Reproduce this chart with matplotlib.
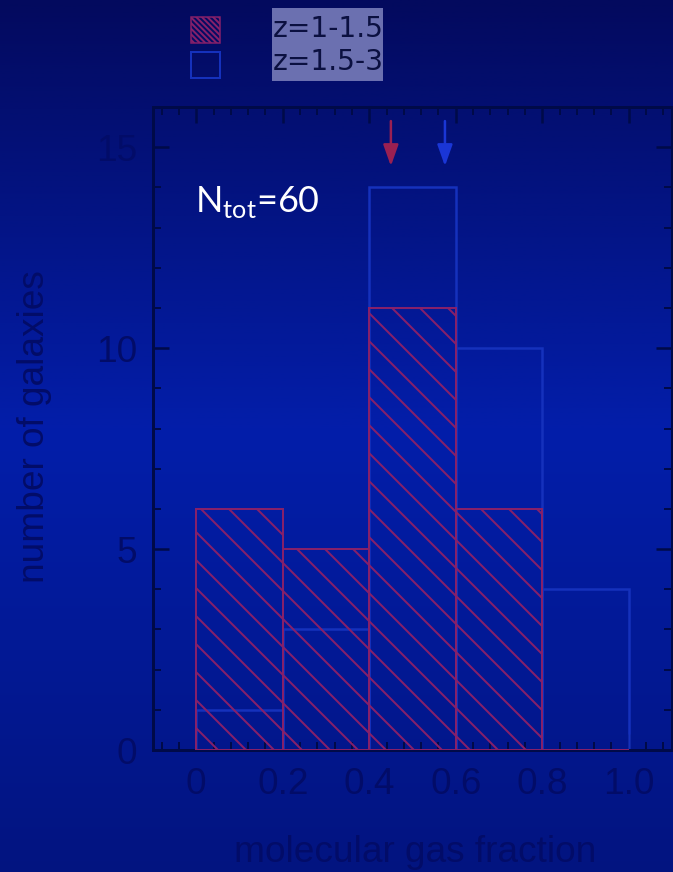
import numpy as np
import matplotlib
matplotlib.use('Agg')
import matplotlib.pyplot as plt
from matplotlib.patches import Rectangle
from matplotlib.ticker import AutoMinorLocator, FixedLocator, MultipleLocator

# ---------------- data ----------------
bin_left = [0.0, 0.2, 0.4, 0.6, 0.8]
bin_width = 0.2
counts_low_z = [6, 5, 11, 6, 0]      # z=1-1.5 (red hatched)
counts_high_z = [1, 3, 14, 10, 4]    # z=1.5-3 (blue open)
median_low_z = 0.45
median_high_z = 0.575
series_labels = ['z=1-1.5', 'z=1.5-3']
n_total = 60
xticks = [0, 0.2, 0.4, 0.6, 0.8, 1.0]
xtick_labels = ['0', '0.2', '0.4', '0.6', '0.8', '1.0']
yticks = [0, 5, 10, 15]
xlabel = 'molecular gas fraction'
ylabel = 'number of galaxies'

# ---------------- style ----------------
DPI = 168
W, H = 673, 872


def pt(px):
    return px * 72.0 / DPI


RED = '#86206a'
BLUE = '#1531bc'
AX_COL = '#000a48'
LBL_COL = '#020c68'

plt.rcParams['hatch.linewidth'] = pt(2.0)
plt.rcParams['font.family'] = ['Liberation Sans', 'DejaVu Sans']

fig = plt.figure(figsize=(W / DPI, H / DPI), dpi=DPI)

# background gradient
bg = fig.add_axes([0, 0, 1, 1], zorder=-10)
ys = np.array([0, 430, 872]) / H
cols = np.array([[3, 10, 94], [3, 30, 170], [2, 20, 128]]) / 255.0
yy = np.linspace(0, 1, 400)
grad = np.stack([np.interp(yy, ys, cols[:, i]) for i in range(3)], axis=-1)
bg.imshow(grad[:, None, :], aspect='auto', extent=[0, 1, 1, 0], origin='upper')
bg.set_xlim(0, 1)
bg.set_ylim(1, 0)
bg.axis('off')

# main axes
left, right, bottom, top = 153, 672, 750, 107
ax = fig.add_axes([left / W, 1 - bottom / H, (right - left) / W, (bottom - top) / H])
ax.set_facecolor('none')

ax.bar(bin_left, counts_high_z, width=bin_width, align='edge', fill=False,
       edgecolor=BLUE, linewidth=pt(2.5), zorder=2)
ax.bar(bin_left, counts_low_z, width=bin_width, align='edge', facecolor='none',
       edgecolor=RED, hatch='\\\\', linewidth=pt(2.0), zorder=3)

for xm, c in [(median_low_z, '#9a2052'), (median_high_z, '#1a36d6')]:
    ax.annotate('', xy=(xm, 14.53), xytext=(xm, 15.65),
                arrowprops=dict(arrowstyle='-|>,head_length=0.45,head_width=0.16',
                                color=c, lw=pt(2.5), shrinkA=0, shrinkB=0,
                                mutation_scale=pt(40)))

ax.set_xlim(-0.1, 1.1)
ax.set_ylim(0, 16)
ax.xaxis.set_major_locator(FixedLocator(xticks))
ax.set_xticklabels(xtick_labels)
ax.xaxis.set_minor_locator(AutoMinorLocator(5))
ax.yaxis.set_major_locator(FixedLocator(yticks))
ax.yaxis.set_minor_locator(MultipleLocator(1))

for s in ax.spines.values():
    s.set_color(AX_COL)
    s.set_linewidth(pt(3))

ax.tick_params(which='both', direction='in', top=True, right=True,
               color=AX_COL, labelcolor=LBL_COL)
ax.tick_params(which='major', length=pt(16), width=pt(2.5), labelsize=pt(37))
ax.tick_params(which='minor', length=pt(8), width=pt(2))
ax.tick_params(axis='x', which='major', pad=pt(17))
ax.tick_params(axis='y', which='major', pad=pt(16))

ax.set_xlabel(xlabel, fontsize=pt(37), color=LBL_COL)
ax.set_ylabel(ylabel, fontsize=pt(37), color=LBL_COL)
ax.xaxis.set_label_coords((415 - left) / (right - left), (bottom - 852) / (bottom - top))
ax.xaxis.label.set_va('center')
ax.yaxis.set_label_coords((35 - left) / (right - left), (bottom - 427) / (bottom - top))
ax.yaxis.label.set_va('center')

# N_tot annotation
plt.rcParams['mathtext.fontset'] = 'custom'
plt.rcParams['mathtext.rm'] = 'Lato'
fig.text(195 / W, 1 - 212 / H, r'N$_{\mathrm{tot}}$=%d' % n_total,
         fontsize=pt(36), color='white', family='Lato', va='baseline', ha='left')

# legend (drawn in figure pixels)
def fx(px):
    return px / W


def fy(py):
    return 1 - py / H

fig.add_artist(Rectangle((fx(191), fy(43)), fx(220) - fx(191), fy(17) - fy(43),
                         transform=fig.transFigure, facecolor='none', edgecolor=RED,
                         hatch='\\' * 10, linewidth=pt(1.5)))
fig.add_artist(Rectangle((fx(191), fy(78)), fx(220) - fx(191), fy(52) - fy(78),
                         transform=fig.transFigure, facecolor='none', edgecolor=BLUE,
                         linewidth=pt(2)))
fig.add_artist(Rectangle((fx(272), fy(81)), fx(383) - fx(272), fy(8) - fy(81),
                         transform=fig.transFigure, facecolor='#6b70b0', edgecolor='none'))
fig.text(fx(273), fy(29), series_labels[0], fontsize=pt(28), color='#0b1040',
         family='DejaVu Sans', va='center', ha='left')
fig.text(fx(273), fy(62), series_labels[1], fontsize=pt(28), color='#0b1040',
         family='DejaVu Sans', va='center', ha='left')

fig.savefig('out.png', dpi=DPI)
